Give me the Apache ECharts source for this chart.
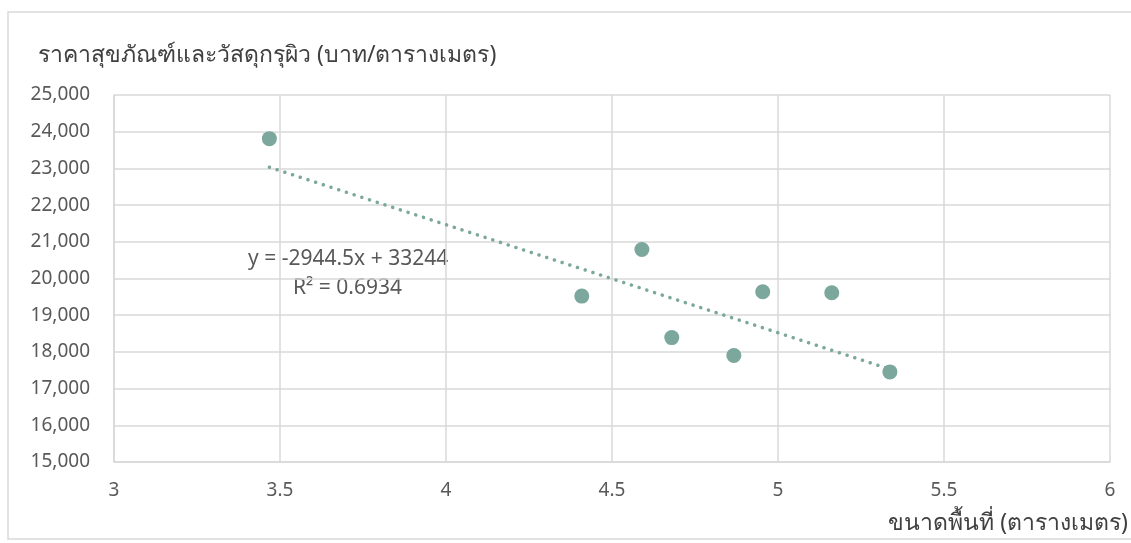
<!DOCTYPE html>
<html>
<head>
<meta charset="utf-8">
<script src="https://cdn.jsdelivr.net/npm/echarts@6/dist/echarts.min.js"></script>
<style>
  html, body { margin: 0; padding: 0; background: #fff; }
  #chart { width: 1131px; height: 543px; }
</style>
</head>
<body>
<div id="chart"></div>
<script>
// Floor area (sq. m) and cost of sanitary ware and surface materials (baht / sq. m)
const areaValues = [3.468, 4.409, 4.590, 4.680, 4.867, 4.954, 5.162, 5.337];
const costValues = [23810, 19520, 20790, 18390, 17900, 19640, 19610, 17455];

// Linear trend reported on the chart
const trendSlope = -2944.5;
const trendIntercept = 33244;
const trendR2 = 0.6934;

const yAxisTitle = 'ราคาสุขภัณฑ์และวัสดุกรุผิว (บาท/ตารางเมตร)';
const xAxisTitle = 'ขนาดพื้นที่ (ตารางเมตร)';

const points = areaValues.map((x, i) => [x, costValues[i]]);
const xMin = Math.min(...areaValues);
const xMax = Math.max(...areaValues);
const trendLine = [
  [xMin, trendSlope * xMin + trendIntercept],
  [xMax, trendSlope * xMax + trendIntercept]
];

const fontFamily = '"Noto Sans", "Open Sans", sans-serif';
const textColor = '#595959';
const gridColor = '#d9d9d9';
const markColor = '#7ba79c';

const chart = echarts.init(document.getElementById('chart'));
chart.setOption({
  animation: false,
  grid: { left: 114, top: 95, right: 21, bottom: 81 },
  xAxis: {
    type: 'value',
    min: 3, max: 6, interval: 0.5,
    axisLine: { show: true, lineStyle: { color: gridColor, width: 1.5 } },
    axisTick: { show: false },
    splitLine: { show: true, lineStyle: { color: gridColor, width: 1.5 } },
    axisLabel: { color: textColor, fontSize: 19, fontFamily, margin: 19 }
  },
  yAxis: {
    type: 'value',
    min: 15000, max: 25000, interval: 1000,
    axisLine: { show: true, lineStyle: { color: gridColor, width: 1.5 } },
    axisTick: { show: false },
    splitLine: { show: true, lineStyle: { color: gridColor, width: 1.5 } },
    axisLabel: {
      color: textColor, fontSize: 19, fontFamily, margin: 24,
      formatter: v => v.toLocaleString('en-US')
    }
  },
  graphic: [
    {
      type: 'rect', silent: true, z: -1,
      shape: { x: 8, y: 12, width: 1140, height: 527 },
      style: { fill: 'none', stroke: gridColor, lineWidth: 1.5 }
    },
    {
      type: 'text', left: 38, top: 44,
      style: { text: yAxisTitle, fill: '#404040', fontSize: 23, fontFamily }
    },
    {
      type: 'text', right: 3, top: 512,
      style: { text: xAxisTitle, fill: '#404040', fontSize: 23, fontFamily }
    },
    {
      type: 'text', left: 248, top: 249,
      style: {
        text: 'y = ' + trendSlope + 'x + ' + trendIntercept,
        fill: textColor, fontSize: 21, fontFamily
      }
    },
    {
      type: 'text', left: 293, top: 278,
      style: { text: 'R² = ' + trendR2, fill: textColor, fontSize: 21, fontFamily }
    }
  ],
  series: [
    {
      type: 'line',
      data: trendLine,
      symbol: 'none',
      lineStyle: { color: markColor, width: 3.5, type: [0.1, 8], cap: 'round' },
      z: 2
    },
    {
      type: 'scatter',
      data: points,
      symbolSize: 15,
      itemStyle: { color: markColor, opacity: 1 },
      z: 3
    }
  ]
});
</script>
</body>
</html>
